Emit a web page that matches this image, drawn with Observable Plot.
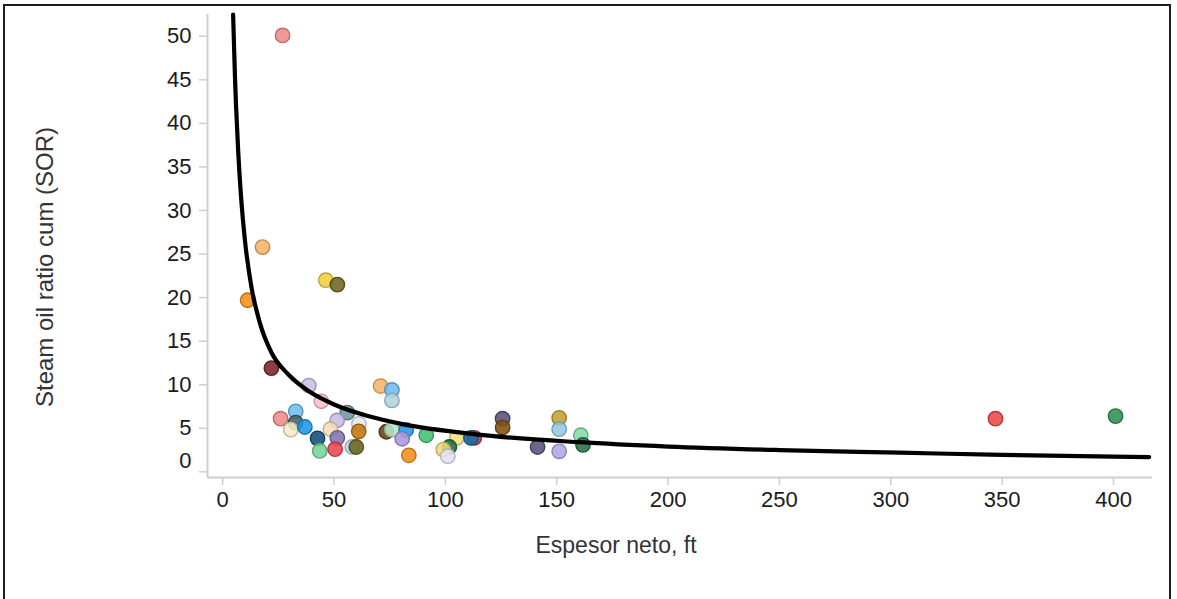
<!DOCTYPE html>
<html>
<head>
<meta charset="utf-8">
<script src="https://cdn.jsdelivr.net/npm/d3@7"></script>
<script src="https://cdn.jsdelivr.net/npm/@observablehq/plot@0.6"></script>
<style>
  html, body { margin: 0; padding: 0; background: #fff; overflow: hidden; }
  #chart { position: absolute; left: 0; top: 0; }
  #frame { position: absolute; left: 3px; top: 4px; width: 1168px; height: 640px;
           border: 2px solid #1e1e1e; box-sizing: border-box; pointer-events: none; }
</style>
</head>
<body>
<div id="chart"></div>
<div id="frame"></div>
<script>
// Pozos: espesor neto (ft) y SOR acumulado
const pozos = ["P01","P02","P03","P04","P05","P06","P07","P08","P09","P10",
               "P11","P12","P13","P14","P15","P16","P17","P18","P19","P20",
               "P21","P22","P23","P24","P25","P26","P27","P28","P29","P30",
               "P31","P32","P33","P34","P35","P36","P37","P38","P39","P40",
               "P41","P42","P43","P44","P45","P46","P47","P48","P49"];
const espesor = [26.9, 17.9, 11.2, 46.3, 51.5, 21.9, 38.7, 44.3, 70.9, 76.0,
                 76.0, 26.0, 32.8, 32.8, 30.6, 36.9, 56.0, 51.4, 61.2, 42.6,
                 48.4, 51.5, 43.6, 50.5, 61.1, 58.2, 60.0, 73.5, 76.0, 82.4,
                 80.6, 83.6, 91.4, 105.1, 101.8, 99.1, 101.1, 113.0, 111.5, 125.7,
                 125.7, 141.4, 151.1, 151.1, 151.1, 160.8, 161.8, 347.0, 400.9];
const sor = [50.1, 25.8, 19.7, 22.0, 21.5, 11.9, 9.9, 8.1, 9.85, 9.4,
             8.2, 6.1, 6.95, 5.65, 4.85, 5.15, 6.8, 5.9, 5.5, 3.85,
             4.9, 3.9, 2.4, 2.6, 4.65, 2.85, 2.85, 4.6, 4.85, 4.8,
             3.8, 1.9, 4.2, 3.9, 2.85, 2.55, 1.8, 3.9, 3.9, 6.1,
             5.1, 2.85, 6.2, 4.9, 2.35, 4.2, 3.1, 6.1, 6.4];

// Curva de tendencia SOR vs espesor neto
const curvaEspesor = [4.7, 5.5, 6.0, 7.0, 8.2, 10, 13, 16.7, 21.9, 29.4,
                      38.4, 50.3, 65.3, 80.2, 113.8, 160, 200, 250, 304, 350,
                      400, 416];
const curvaSor = [52.5, 45.6, 42.1, 36.7, 31.8, 26.6, 21.1, 17.1, 13.7, 11.2,
                  9.3, 7.7, 6.4, 5.5, 4.3, 3.4, 2.9, 2.5, 2.2, 1.95,
                  1.75, 1.7];

const xTicks = [0, 50, 100, 150, 200, 250, 300, 350, 400];
const yTicks = [0, 5, 10, 15, 20, 25, 30, 35, 40, 45, 50];

const xTitle = "Espesor neto, ft";
const yTitle = "Steam oil ratio cum (SOR)";

// Colores de cada pozo
const palette = ["#f08a8a","#f7b468","#f39019","#f2d040","#6e6420","#7a2328","#cbbde6","#f7c0c8","#f7b468","#6fbcef",
                 "#b0d4e2","#f08a8a","#6fbcef","#45606a","#f5ecc4","#1e96e6","#6a96a8","#c8bce8","#e4ebf2","#124f78",
                 "#f9dcb4","#8274b4","#78d49a","#ea4454","#c47510","#b8d8f0","#6e6420","#70420e","#b4e6cc","#2198e8",
                 "#a898e0","#f39019","#40c070","#f2e07c","#236a44","#f2da78","#e4e2f2","#c03838","#1a6ca4","#555278",
                 "#80500f","#555278","#c2a234","#92cae0","#b4a4e4","#84dca4","#237444","#ea4848","#2f9054"];
const fillOf = new Map(pozos.map((id, i) => [id, palette[i]]));
const strokeOf = id => d3.color(fillOf.get(id)).darker(0.7).formatHex();

const puntos = pozos.map((id, i) => ({id, espesor: espesor[i], sor: sor[i]}));
const curva = curvaEspesor.map((x, i) => ({espesor: x, sor: curvaSor[i]}));

const X0 = -6.8, X1 = 417.5, Y0 = -0.65, Y1 = 52.5;
const font = "'Liberation Sans', Arial, Helvetica, sans-serif";
const axisGray = "#cfcfcf";

const chart = Plot.plot({
  width: 1177,
  height: 599,
  marginLeft: 207,
  marginRight: 25,
  marginTop: 14,
  marginBottom: 122,
  x: {domain: [X0, X1]},
  y: {domain: [Y0, Y1]},
  style: {fontFamily: font, background: "transparent", color: "#1a1a1a"},
  marks: [
    Plot.ruleX([X0], {stroke: axisGray, strokeWidth: 2}),
    Plot.ruleY([Y0], {stroke: axisGray, strokeWidth: 2}),
    Plot.axisX({ticks: xTicks, tickSize: 8, tickPadding: 6, fontSize: 22, stroke: axisGray,
                strokeWidth: 1.5, fill: "#1a1a1a", label: null}),
    Plot.axisY({ticks: yTicks, tickSize: 8, tickPadding: 8, fontSize: 22, stroke: axisGray,
                strokeWidth: 1.5, fill: "#1a1a1a", label: null,
                tickFormat: d => d === 0 ? "" : String(d)}),
    // etiqueta del cero, desplazada hacia arriba
    Plot.text(yTicks.filter(d => d === 0), {y: d => d, frameAnchor: "left", dx: -16, dy: -11,
                textAnchor: "end", fontSize: 22, fill: "#1a1a1a", text: d => String(d)}),
    Plot.dot(puntos, {x: "espesor", y: "sor", r: 7.2,
                fill: d => fillOf.get(d.id), fillOpacity: 0.88,
                stroke: d => strokeOf(d.id), strokeWidth: 1.4}),
    Plot.line(curva, {x: "espesor", y: "sor", curve: "monotone-x", stroke: "#000", strokeWidth: 4.2}),
    Plot.text([xTitle], {frameAnchor: "bottom", dx: -64, dy: 75, fontSize: 23, fill: "#333",
                textAnchor: "middle", text: d => d}),
    Plot.text([yTitle], {frameAnchor: "left", dx: -162, dy: 21, rotate: -90, fontSize: 24,
                textAnchor: "middle", fill: "#333", text: d => d})
  ]
});

document.getElementById("chart").appendChild(chart);
</script>
</body>
</html>
